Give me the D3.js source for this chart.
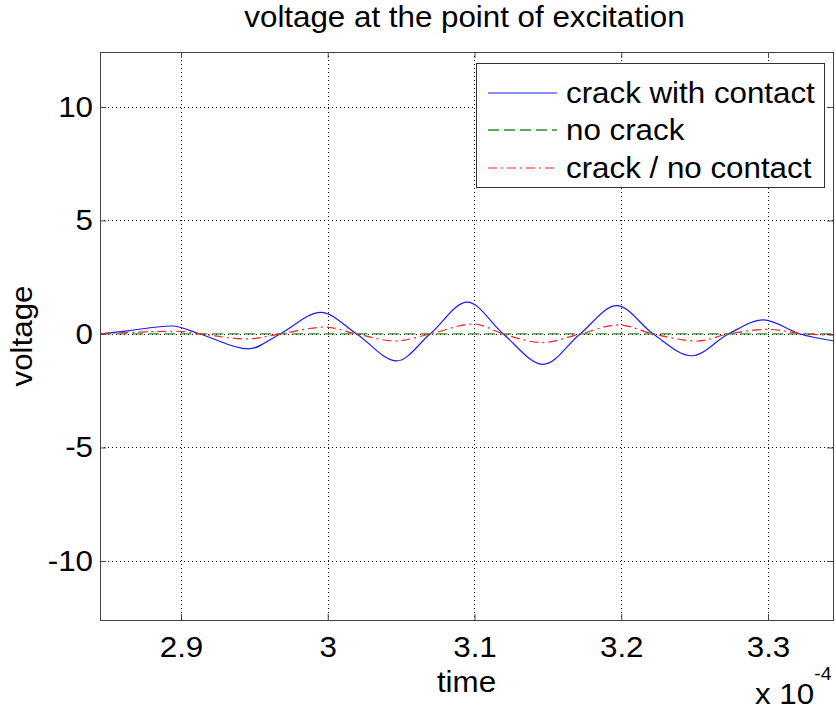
<!DOCTYPE html>
<html><head><meta charset="utf-8">
<script src="https://cdn.jsdelivr.net/npm/d3@7"></script>
<style>
body{margin:0;background:#fff}
svg{display:block}
text{font-family:"Liberation Sans",Arial,Helvetica,sans-serif;fill:#000}
</style>
</head><body>
<svg id="chart" width="836" height="712"></svg>
<script>
// ---- data (time in units of 1e-4 s) ----
const xTicks = [2.9, 3.0, 3.1, 3.2, 3.3];
const xTickLabels = ["2.9", "3", "3.1", "3.2", "3.3"];
const yTicks = [-10, -5, 0, 5, 10];
const yTickLabels = ["-10", "-5", "0", "5", "10"];
const seriesNames = ["crack with contact", "no crack", "crack / no contact"];

const contactTime = [2.845, 2.865, 2.8937, 2.913, 2.9459, 2.9675, 2.9952, 3.0197, 3.047, 3.0697, 3.0951, 3.1196, 3.1469, 3.1719, 3.1969, 3.2218, 3.248, 3.273, 3.2968, 3.3218, 3.3443];
const contactVoltage = [0, 0.15, 0.35, 0, -0.66, 0, 0.95, 0, -1.19, 0, 1.40, 0, -1.34, 0, 1.25, 0, -0.96, 0, 0.62, 0, -0.30];

const noCrackTime = [2.845, 3.3443];
const noCrackVoltage = [0, 0];

const noContactTime = [2.845, 2.87, 2.896, 2.913, 2.945, 2.9675, 2.998, 3.0197, 3.046, 3.0697, 3.0995, 3.1196, 3.146, 3.1719, 3.198, 3.2218, 3.252, 3.273, 3.3, 3.325, 3.3443];
const noContactVoltage = [0, 0.08, 0.12, 0, -0.22, 0, 0.30, 0, -0.31, 0, 0.44, 0, -0.38, 0, 0.40, 0, -0.31, 0, 0.20, 0, -0.05];

// ---- layout ----
const L = 100, R = 833, T = 52, B = 620;
const svg = d3.select("#chart");
const x = d3.scaleLinear().domain([2.8448, 3.3443]).range([L, R]);
const y = d3.scaleLinear().domain([-12.6, 12.42]).range([B, T]);
const FS = 29;
const SX = 1.08; // horizontal glyph stretch to match reference font width

// grid
const grid = svg.append("g");
grid.selectAll(".gx").data(xTicks).join("line")
  .attr("x1", d => Math.round(x(d)) + 0.5).attr("x2", d => Math.round(x(d)) + 0.5)
  .attr("y1", T).attr("y2", B)
  .attr("stroke", "#000").attr("stroke-width", 1).attr("stroke-dasharray", "1,3");
grid.selectAll(".gy").data(yTicks).join("line")
  .attr("y1", d => Math.round(y(d)) + 0.5).attr("y2", d => Math.round(y(d)) + 0.5)
  .attr("x1", L).attr("x2", R)
  .attr("stroke", "#000").attr("stroke-width", 1).attr("stroke-dasharray", "1,3");

// clip
svg.append("clipPath").attr("id", "clip").append("rect")
  .attr("x", L).attr("y", T).attr("width", R - L).attr("height", B - T);

const plot = svg.append("g").attr("clip-path", "url(#clip)");
const mk = (ts, vs) => ts.map((t, i) => [t, vs[i]]);
const line = d3.line().x(d => x(d[0])).y(d => y(d[1])).curve(d3.curveMonotoneX);

const styles = [
  {color: "#1a1aff", dash: null, w: 1.2},
  {color: "#2e8b2e", dash: "11,5", w: 1.3},
  {color: "#ff2020", dash: "9,4,2,4", w: 1.2}
];
const data = [mk(contactTime, contactVoltage), mk(noCrackTime, noCrackVoltage), mk(noContactTime, noContactVoltage)];
data.forEach((d, i) => {
  plot.append("path").datum(d).attr("d", line)
    .attr("fill", "none").attr("stroke", styles[i].color)
    .attr("stroke-width", styles[i].w)
    .attr("stroke-dasharray", styles[i].dash);
});

// axes
const axisColor = "#444";
const fmtX = d => xTickLabels[xTicks.indexOf(d)];
const fmtY = d => yTickLabels[yTicks.indexOf(d)];
const ax = svg.append("g").attr("transform", `translate(0,${B})`)
  .call(d3.axisBottom(x).tickValues(xTicks).tickFormat(fmtX).tickSize(-6).tickPadding(16));
const ay = svg.append("g").attr("transform", `translate(${L},0)`)
  .call(d3.axisLeft(y).tickValues(yTicks).tickFormat(fmtY).tickSize(-6).tickPadding(7));
const at = svg.append("g").attr("transform", `translate(0,${T})`)
  .call(d3.axisTop(x).tickValues(xTicks).tickFormat("").tickSize(-6));
const ar = svg.append("g").attr("transform", `translate(${R},0)`)
  .call(d3.axisRight(y).tickValues(yTicks).tickFormat("").tickSize(-6));
[ax, ay, at, ar].forEach(g => {
  g.select(".domain").remove();
  g.selectAll("line").attr("stroke", axisColor);
  g.selectAll("text").attr("font-size", FS).attr("font-family", null).attr("fill", "#000")
    .attr("transform", `scale(${SX},1)`);
});
ay.selectAll("text").attr("x", -7 / SX);
svg.append("rect").attr("x", L + 0.5).attr("y", T + 0.5).attr("width", R - L).attr("height", B - T)
  .attr("fill", "none").attr("stroke", axisColor).attr("stroke-width", 1);

function label(px, py, str, anchor, rot) {
  return svg.append("text")
    .attr("transform", `translate(${px},${py})` + (rot ? ` rotate(${rot})` : "") + ` scale(${SX},1)`)
    .attr("text-anchor", anchor || "start").attr("font-size", FS).text(str);
}

// legend
const lg = svg.append("g");
lg.append("rect").attr("x", 476.5).attr("y", 63.5).attr("width", 348).attr("height", 124)
  .attr("fill", "#fff").attr("stroke", "#333");
const rowsY = [93, 130, 168];
seriesNames.forEach((n, i) => {
  lg.append("line").attr("x1", 488).attr("x2", 557).attr("y1", rowsY[i]).attr("y2", rowsY[i])
    .attr("stroke", styles[i].color).attr("stroke-width", styles[i].w)
    .attr("stroke-dasharray", styles[i].dash);
  label(566, rowsY[i] + 10, n);
});

// titles
label((L + R) / 2 - 2, 27, "voltage at the point of excitation", "middle");
label((L + R) / 2, 692, "time", "middle");
label(32, 336, "voltage", "middle", -90);
const mult = label(755, 704, "x 10");
mult.append("tspan").attr("dy", -24).attr("font-size", 18).text("-4");
</script>
</body></html>
